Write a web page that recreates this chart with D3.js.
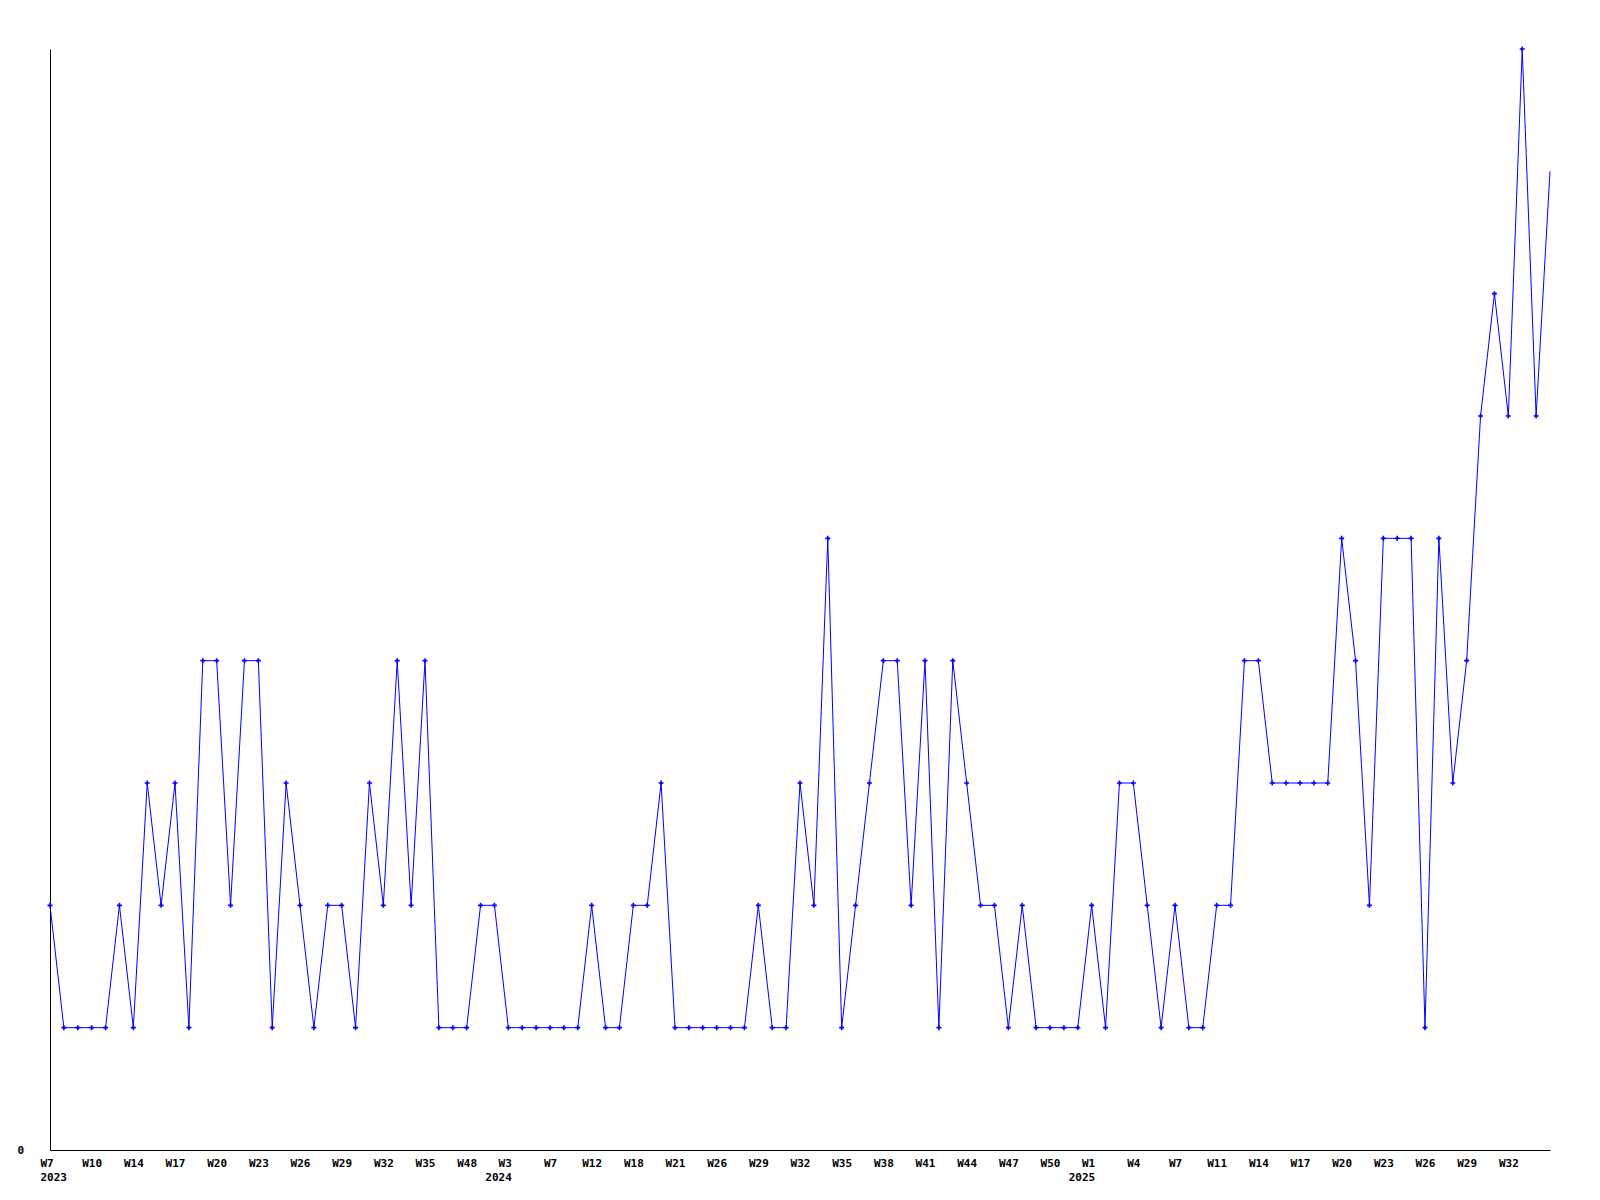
<!DOCTYPE html>
<html>
<head>
<meta charset="utf-8">
<script src="https://cdn.jsdelivr.net/npm/d3@7"></script>
<style>
  html, body { margin: 0; padding: 0; background: #ffffff; }
  svg { display: block; }
  text { font-family: "DejaVu Sans Mono", "Liberation Mono", monospace; font-weight: bold; font-size: 11px; fill: #000; }
</style>
</head>
<body>
<svg id="chart" width="1600" height="1200"></svg>
<script>
// ---- data ----
const years = ["2023", "2024", "2025"];
const weeks2023 = ["W7","W8","W9","W10","W11","W13","W14","W15","W16","W17","W18","W19","W20","W21","W22",
  "W23","W24","W25","W26","W27","W28","W29","W30","W31","W32","W33","W34","W35","W38","W43","W48","W50","W52"];
const weeks2024 = ["W3","W5","W6","W7","W9","W10","W12","W14","W16","W18","W19","W20","W21","W23","W24",
  "W26","W27","W28","W29","W30","W31","W32","W33","W34","W35","W36","W37","W38","W39","W40",
  "W41","W42","W43","W44","W45","W46","W47","W48","W49","W50","W51","W52"];
const weeks2025 = ["W1","W2","W3","W4","W5","W6","W7","W9","W10","W11","W12","W13","W14","W15","W16",
  "W17","W18","W19","W20","W21","W22","W23","W24","W25","W26","W27","W28","W29","W30","W31","W32","W33","W34","W35"];
const values = [
  2,1,1,1,1,2,1,3,2,3, 1,4,4,2,4,4,1,3,2,1,
  2,2,1,3,2,4,2,4,1,1, 1,2,2,1,1,1,1,1,1,2,
  1,1,2,2,3,1,1,1,1,1, 1,2,1,1,3,2,5,1,2,3,
  4,4,2,4,1,4,3,2,2,1, 2,1,1,1,1,2,1,3,3,2,
  1,2,1,1,2,2,4,4,3,3, 3,3,3,5,4,2,5,5,5,1,
  5,3,4,6,7,6,9,6,8
];
const yTickValues = [0];
const yMax = 9;
const labelEvery = 3;

// ---- build table ----
const weekLists = [weeks2023, weeks2024, weeks2025];
const points = [];
weekLists.forEach((wl, yi) => wl.forEach((w, wi) => {
  points.push({ key: years[yi] + "-" + w, week: w, year: wi === 0 ? years[yi] : null });
}));
points.forEach((p, i) => { p.value = values[i]; p.i = i; });

// ---- layout ----
const svg = d3.select("#chart");
const plotLeft = 50, plotRight = 1550, plotTop = 49, plotBottom = 1150;

const x = d3.scalePoint().domain(points.map(p => p.key)).range([plotLeft, plotRight]).padding(0);
const y = d3.scaleLinear().domain([0, yMax]).range([plotBottom, plotTop]);

// y axis
const yAxis = svg.append("g").attr("transform", `translate(${plotLeft},0)`)
  .call(d3.axisLeft(y).tickValues(yTickValues).tickSize(0).tickSizeOuter(0).tickPadding(26).tickFormat(d3.format("d")));
yAxis.select(".domain").attr("stroke", "#000").attr("stroke-width", 1);
yAxis.selectAll("text").attr("dy", "0.36em").style("font-size", "11px").style("font-family", null);
yAxis.attr("font-family", null).attr("font-size", null);

// x axis (labels every 3rd week; the last, edge week is not labelled)
const tickKeys = points.filter((p, i) => i % labelEvery === 0 && i < points.length - 1).map(p => p.key);
const byKey = new Map(points.map(p => [p.key, p]));
const xAxis = svg.append("g").attr("transform", `translate(0,${plotBottom})`)
  .call(d3.axisBottom(x).tickValues(tickKeys).tickSize(0).tickSizeOuter(0).tickPadding(0).tickFormat(() => ""));
xAxis.attr("font-family", null).attr("font-size", null);
xAxis.select(".domain").attr("stroke", "#000").attr("stroke-width", 1);
xAxis.selectAll(".tick").each(function(k) {
  const p = byKey.get(k);
  const t = d3.select(this).select("text").text(null).attr("y", 0).attr("dy", null)
    .style("font-size", "11px").style("font-family", null);
  if (p.year) {
    const anchor = p.i === 0 ? "start" : "end";
    const dx = p.i === 0 ? -10 : 3;
    t.attr("text-anchor", anchor);
    t.append("tspan").attr("x", dx).attr("y", 16.5).text(p.week);
    t.append("tspan").attr("x", dx).attr("y", 30.5).text(p.year);
  } else {
    t.attr("text-anchor", "middle");
    t.append("tspan").attr("x", 0).attr("y", 16.5).text(p.week);
  }
});

// line
const line = d3.line().x(d => x(d.key)).y(d => y(d.value));
svg.append("path").datum(points)
  .attr("fill", "none").attr("stroke", "#0000ff").attr("stroke-width", 1)
  .attr("d", line);

// markers (last, incomplete week has none)
svg.append("g").selectAll("path").data(points.slice(0, -1)).join("path")
  .attr("transform", d => `translate(${x(d.key)},${y(d.value)})`)
  .attr("d", "M-2.5,0H2.5M0,-2.5V2.5")
  .attr("stroke", "#0000ff").attr("stroke-width", 1.6).attr("fill", "none");
</script>
</body>
</html>
